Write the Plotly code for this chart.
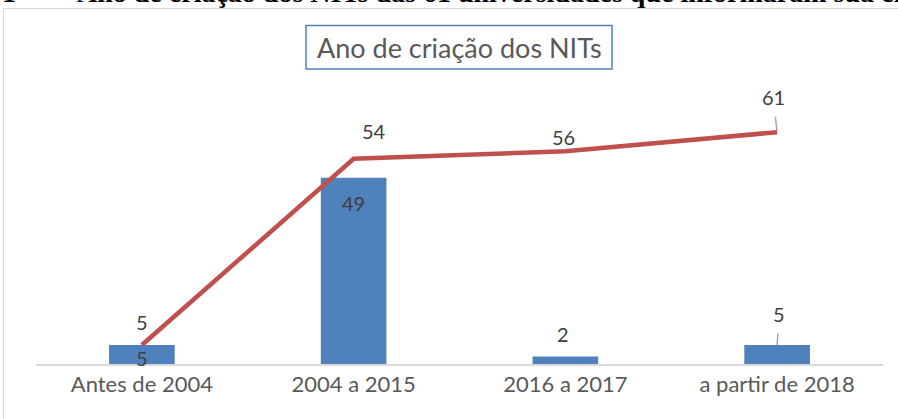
import plotly.graph_objects as go

categories = ["Antes de 2004", "2004 a 2015", "2016 a 2017", "a partir de 2018"]
bar_values = [5, 49, 2, 5]
line_values = [5, 54, 56, 61]
chart_title = "Ano de criação dos NITs"
caption_num = "1 –"
caption = "Ano de criação dos NITs das 61 universidades que informaram sua criação"

W, H = 898, 419
ML, MR, MT, MB = 36, 15, 98, 55
PW, PH = W - ML - MR, H - MT - MB

FONT = "Lato"
BLUE = "#4F81BD"
RED = "#C0504D"
LBL = dict(family=FONT, size=20, color="#404040")

fig = go.Figure()
fig.add_trace(go.Bar(x=categories, y=bar_values, width=0.31,
                     marker=dict(color=BLUE, line=dict(width=0)),
                     hoverinfo="x+y"))
fig.add_trace(go.Scatter(x=categories, y=line_values, mode="lines",
                         line=dict(color=RED, width=4.5), hoverinfo="x+y"))

ann = []
bar_shift = [(0, -13), (0, -25), (-2, 22), (2, 31)]
for i, (c, v) in enumerate(zip(categories, bar_values)):
    dx, dy = bar_shift[i]
    if i == 3:
        ann.append(dict(x=c, y=v, xref="x", yref="y", text=str(v), showarrow=True,
                        ax=dx, ay=-dy, arrowhead=0, arrowwidth=1.5, arrowcolor="#A6A6A6",
                        standoff=0, startstandoff=6, font=LBL))
    else:
        ann.append(dict(x=c, y=v, xref="x", yref="y", text=str(v), showarrow=False,
                        xshift=dx, yshift=dy, font=LBL))
line_shift = [(0, 23), (20, 28), (-2, 14), (-4, 35)]
for i, (c, v) in enumerate(zip(categories, line_values)):
    dx, dy = line_shift[i]
    if i == 3:
        ann.append(dict(x=c, y=v, xref="x", yref="y", text=str(v), showarrow=True,
                        ax=dx, ay=-dy, arrowhead=0, arrowwidth=1.5, arrowcolor="#A6A6A6",
                        standoff=2, startstandoff=6, font=LBL))
    else:
        ann.append(dict(x=c, y=v, xref="x", yref="y", text=str(v), showarrow=False,
                        xshift=dx, yshift=dy, font=LBL))

def px2paper_x(px):
    return (px - ML) / PW

def px2paper_y(py):
    return 1 - (py - MT) / PH

# chart title
ann.append(dict(x=px2paper_x(459), y=px2paper_y(47.5), xref="paper", yref="paper",
                text=chart_title, showarrow=False, xanchor="center", yanchor="middle",
                font=dict(family=FONT, size=27, color="#595959")))
# cut-off caption at the very top
CAP_Y = -7
ann.append(dict(x=px2paper_x(0), y=px2paper_y(CAP_Y), xref="paper", yref="paper",
                text="<b>" + caption_num + "</b>", showarrow=False, xanchor="left", yanchor="middle",
                font=dict(family="Liberation Serif", size=28, color="#000000")))
ann.append(dict(x=px2paper_x(75), y=px2paper_y(CAP_Y), xref="paper", yref="paper",
                text="<b>" + caption + "</b>", showarrow=False, xanchor="left", yanchor="middle",
                font=dict(family="Liberation Serif", size=28, color="#000000")))

shapes = [
    dict(type="rect", xref="paper", yref="paper",
         x0=px2paper_x(3.5), x1=px2paper_x(905), y0=px2paper_y(8.5), y1=px2paper_y(430),
         line=dict(color="#D9D9D9", width=1.2), fillcolor="rgba(0,0,0,0)", layer="below"),
    dict(type="rect", xref="paper", yref="paper",
         x0=px2paper_x(306), x1=px2paper_x(612), y0=px2paper_y(25.5), y1=px2paper_y(69),
         line=dict(color=BLUE, width=1.5), fillcolor="white", layer="below"),
]

fig.update_layout(
    width=W, height=H,
    margin=dict(l=ML, r=MR, t=MT, b=MB, pad=0),
    paper_bgcolor="white", plot_bgcolor="white",
    showlegend=False,
    annotations=ann, shapes=shapes,
    xaxis=dict(type="category", range=[-0.5, 3.5], showgrid=False, zeroline=False,
               showline=True, linecolor="#D9D9D9", linewidth=1.5, ticks="",
               tickfont=dict(family=FONT, size=22, color="#595959")),
    yaxis=dict(range=[0, 70], visible=False, showgrid=False, zeroline=False),
)

fig.write_html("out.html", config={"displayModeBar": False},
               post_script="document.body.style.margin='0';document.body.style.overflow='hidden';")
